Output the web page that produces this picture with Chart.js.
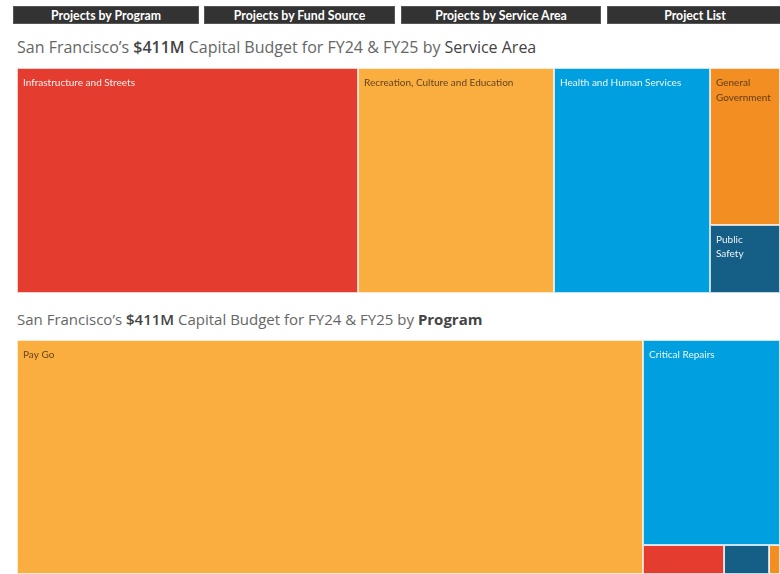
<!DOCTYPE html>
<html>
<head>
<meta charset="utf-8">
<script src="https://cdn.jsdelivr.net/npm/chart.js@4.4.0/dist/chart.umd.min.js"></script>
<style>
  body { margin: 0; background: #fff; width: 780px; height: 574px; overflow: hidden; position: relative; font-family: 'Open Sans', sans-serif; }
  .btn { position: absolute; top: 6px; height: 18px; background: #333; border: 1px solid #555; box-sizing: border-box;
         color: #fff; font: bold 12.3px Lato, sans-serif; text-align: center; line-height: 17px; }
  .title { position: absolute; left: 17px; color: #666; white-space: nowrap; line-height: 20px; }
  .title b { color: #444; font-weight: 600; }
  .map { position: absolute; left: 17px; }
</style>
</head>
<body>
  <div class="btn" style="left:13px;width:186px">Projects by Program</div>
  <div class="btn" style="left:204px;width:191px">Projects by Fund Source</div>
  <div class="btn" style="left:401px;width:200px">Projects by Service Area</div>
  <div class="btn" style="left:607px;width:176px">Project List</div>

  <div class="title" style="top:37px;font-size:16px">San Francisco’s <b>$411M</b> Capital Budget for FY24 &amp; FY25 by <b style="font-weight:500">Service Area</b></div>
  <div class="map" style="top:68px"><canvas id="chartServiceArea" width="763" height="225"></canvas></div>

  <div class="title" style="top:309px;font-size:15px">San Francisco’s <b>$411M</b> Capital Budget for FY24 &amp; FY25 by <b style="font-weight:700">Program</b></div>
  <div class="map" style="top:340px"><canvas id="chartProgram" width="763" height="234"></canvas></div>

<script>
// Datos (millones USD)
const serviceAreas = ['Infrastructure and Streets', 'Recreation, Culture and Education', 'Health and Human Services', 'General Government', 'Public Safety'];
const serviceAreaBudget = [183.7, 105.6, 84.0, 26.3, 11.4];
const serviceAreaColors = ['#E43D30', '#FBAE40', '#009FDF', '#F28E22', '#155E85'];

const programs = ['Pay Go', 'Critical Repairs', 'Enhancements', 'ADA Improvements', 'Other'];
const programBudget = [337.2, 64.7, 5.4, 3.0, 0.7];
const programColors = ['#FBAE40', '#009FDF', '#E43D30', '#155E85', '#F28E22'];

const darkText = { '#FBAE40': true, '#F28E22': true };

// Peor proporción de una fila (squarify)
function worst(row, side) {
  const s = row.reduce((a, r) => a + r.area, 0);
  const max = Math.max(...row.map(r => r.area));
  const min = Math.min(...row.map(r => r.area));
  return Math.max(side * side * max / (s * s), (s * s) / (side * side * min));
}

// Layout squarified en unidades de datos (origen arriba-izquierda)
function squarify(labels, values, colors, W, H) {
  const total = values.reduce((a, b) => a + b, 0);
  let rest = labels.map((l, i) => ({ label: l, value: values[i], color: colors[i], area: values[i] / total * W * H }))
    .sort((a, b) => b.value - a.value);
  const out = [];
  let x = 0, y = 0, w = W, h = H;
  while (rest.length) {
    const side = Math.min(w, h);
    let row = [rest[0]];
    let i = 1;
    while (i < rest.length && worst(row.concat(rest[i]), side) <= worst(row, side)) {
      row.push(rest[i]);
      i++;
    }
    rest = rest.slice(i);
    const sum = row.reduce((a, r) => a + r.area, 0);
    if (w >= h) {
      const cw = sum / h;
      let cy = y;
      row.forEach(r => { const rh = r.area / cw; out.push({ ...r, x: x, y: cy, w: cw, h: rh }); cy += rh; });
      x += cw; w -= cw;
    } else {
      const rh = sum / w;
      let cx = x;
      row.forEach(r => { const rw = r.area / rh; out.push({ ...r, x: cx, y: y, w: rw, h: rh }); cx += rw; });
      y += rh; h -= rh;
    }
  }
  return out;
}

// Bordes y etiquetas de cada rectángulo
const treemapLabels = {
  id: 'treemapLabels',
  afterDatasetsDraw(chart) {
    const ctx = chart.ctx;
    const xs = chart.scales.x, ys = chart.scales.y;
    ctx.save();
    chart.data.datasets.forEach(ds => {
      const r = ds.rect;
      const px0 = xs.getPixelForValue(r.x), px1 = xs.getPixelForValue(r.x + r.w);
      const py0 = ys.getPixelForValue(r.y), py1 = ys.getPixelForValue(r.y + r.h);
      ctx.strokeStyle = 'rgba(255,255,255,0.75)';
      ctx.lineWidth = 1;
      ctx.strokeRect(Math.round(px0) + 0.5, Math.round(py0) + 0.5, Math.round(px1 - px0) - 1, Math.round(py1 - py0) - 1);

      // Texto con salto de línea
      ctx.font = '10px Lato, sans-serif';
      const wrapW = px1 - px0 - 14;
      const words = r.label.split(' ');
      const lines = [];
      let cur = '';
      let fits = true;
      words.forEach(wd => {
        const test = cur ? cur + ' ' + wd : wd;
        if (ctx.measureText(test).width <= wrapW) cur = test;
        else { if (cur) lines.push(cur); cur = wd; if (ctx.measureText(wd).width > px1 - px0 - 6) fits = false; }
      });
      if (cur) lines.push(cur);
      if (!fits || py1 - py0 < 40 + 14.5 * (lines.length - 1)) return;
      ctx.fillStyle = darkText[r.color] ? 'rgba(60,40,20,0.8)' : 'rgba(255,255,255,0.92)';
      ctx.textBaseline = 'alphabetic';
      lines.forEach((ln, i) => ctx.fillText(ln, px0 + 6, py0 + 18 + i * 14.5));
    });
    ctx.restore();
  }
};

function renderTreemap(canvasId, labels, values, colors) {
  const canvas = document.getElementById(canvasId);
  const W = canvas.width / canvas.height;
  const H = 1;
  const rects = squarify(labels, values, colors, W, H);

  // Cada rectángulo: borde superior relleno hasta su borde inferior
  const datasets = rects.map(r => ({
    label: r.label,
    data: [{ x: r.x, y: r.y }, { x: r.x + r.w, y: r.y }],
    fill: { value: r.y + r.h },
    backgroundColor: r.color,
    borderColor: r.color,
    borderWidth: 0,
    pointRadius: 0,
    rect: r
  }));

  return new Chart(canvas.getContext('2d'), {
    type: 'line',
    data: { datasets: datasets },
    options: {
      responsive: false,
      animation: false,
      layout: { padding: 0 },
      plugins: { legend: { display: false }, tooltip: { enabled: false } },
      scales: {
        x: { type: 'linear', display: false, min: 0, max: W },
        y: { type: 'linear', display: false, min: 0, max: H, reverse: true }
      }
    },
    plugins: [treemapLabels]
  });
}

renderTreemap('chartServiceArea', serviceAreas, serviceAreaBudget, serviceAreaColors);
renderTreemap('chartProgram', programs, programBudget, programColors);
</script>
</body>
</html>
